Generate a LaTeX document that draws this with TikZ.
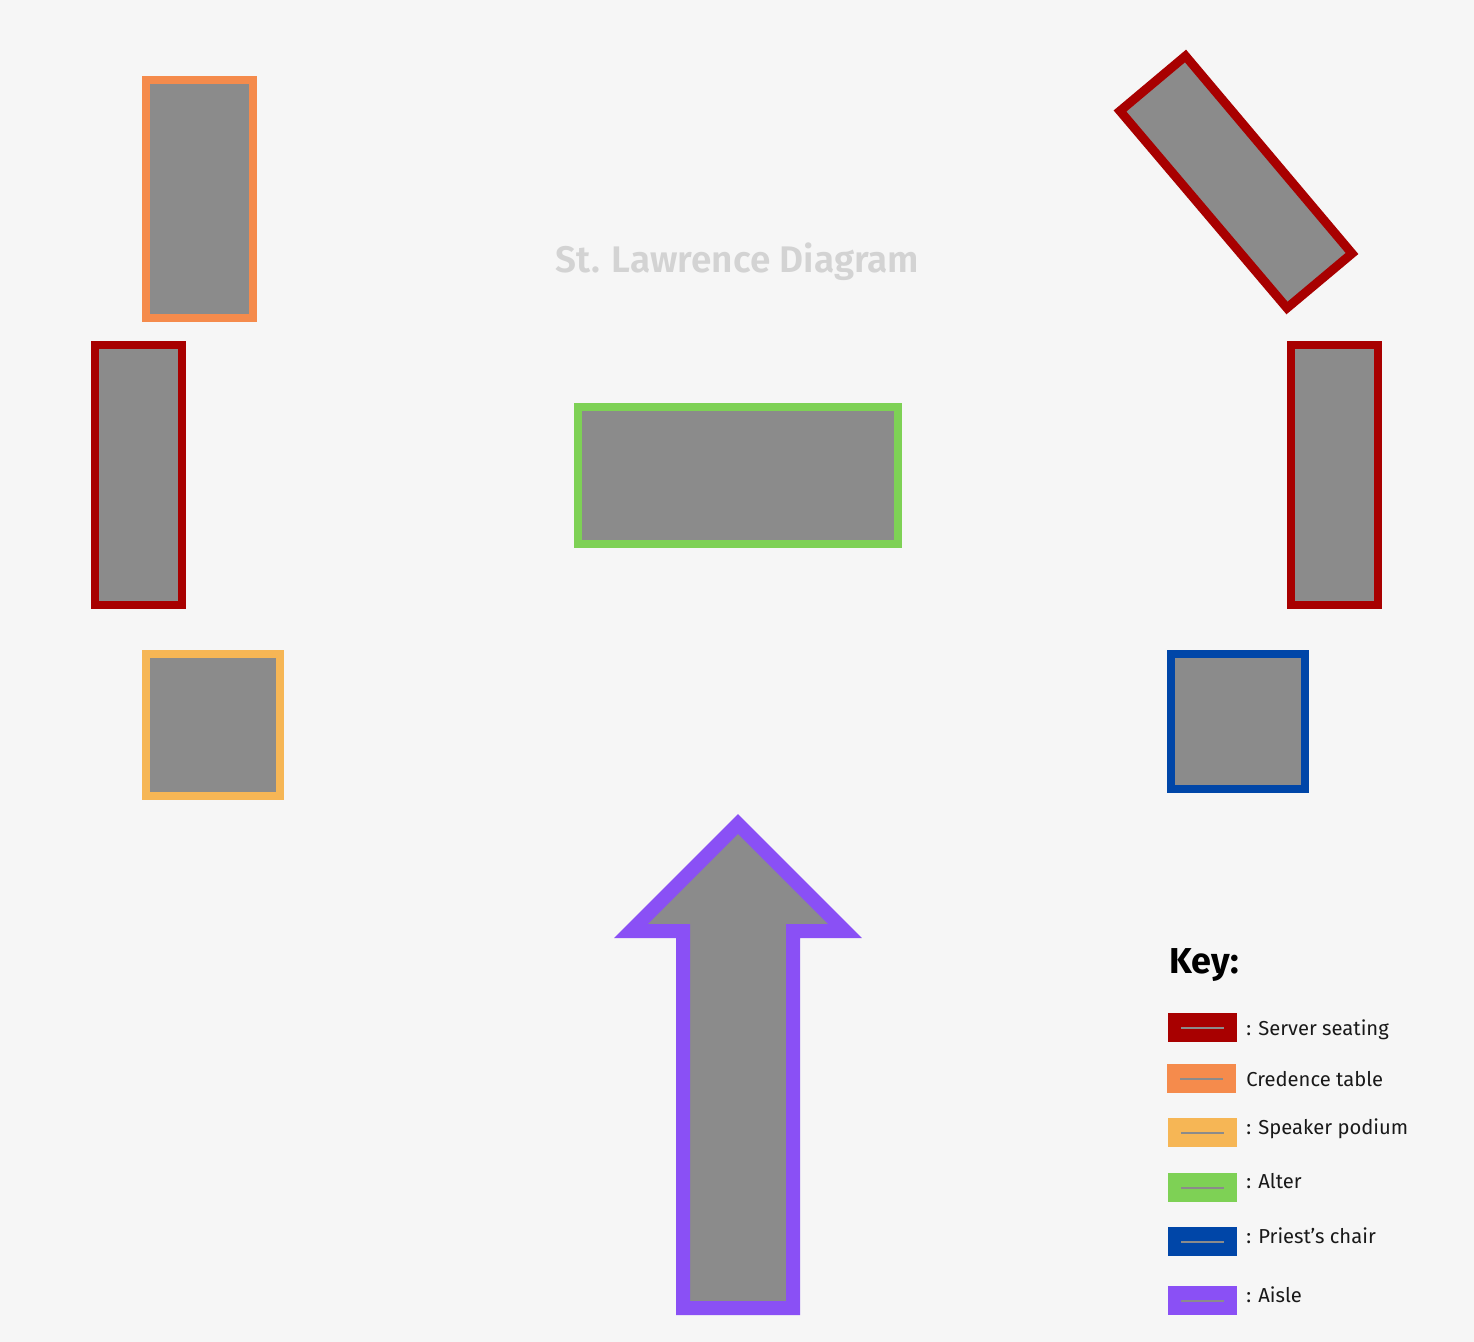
\documentclass[tikz,border=0pt]{standalone}
\usepackage{fontspec}
\setmainfont{Fira Sans}
\definecolor{pagebg}{HTML}{F6F6F6}
\definecolor{fillgray}{HTML}{8B8B8B}
\definecolor{serverred}{HTML}{A80000}
\definecolor{credorange}{HTML}{F58B4C}
\definecolor{podiumyellow}{HTML}{F6B655}
\definecolor{altergreen}{HTML}{7ED155}
\definecolor{chairblue}{HTML}{0046A8}
\definecolor{aislepurple}{HTML}{8A50F5}
\definecolor{titlegray}{HTML}{D3D3D3}
\tikzset{
    furniture/.style={fill=fillgray, line width=4pt, miter limit=10},
    swatch/.style={anchor=north west, inner sep=0pt, minimum width=34.5pt, minimum height=14.5pt},
    swatchline/.style={fillgray, line width=.6pt},
    keytext/.style={anchor=base west, inner sep=0pt, font=\fontsize{10.1}{12}\selectfont, text=black!90}
}

\begin{document}
\begin{tikzpicture}[x=.5pt,y=-.5pt]
                \fill[pagebg] (0,0) rectangle (1474,1342);
                \useasboundingbox (0,0) rectangle (1474,1342);

                \draw[furniture, draw=credorange]   (146,80)   rectangle (253,318);
                \draw[furniture, draw=serverred]    (95,345)   rectangle (182,605);
                \draw[furniture, draw=podiumyellow] (146,654)  rectangle (280,796);
                \draw[furniture, draw=altergreen]   (578,407)  rectangle (898,544);
                \draw[furniture, draw=serverred]    (1291,345) rectangle (1378,605);
                \draw[furniture, draw=chairblue]    (1171,654) rectangle (1305,789);
                \draw[furniture, draw=serverred, line width=4.5pt]
                (1185.5,56) -- (1352,253.5) -- (1287,308) -- (1120,111) -- cycle;

                \draw[furniture, draw=aislepurple, line width=7pt]
                (738,824) -- (845,931) -- (793,931) -- (793,1308) -- (683,1308)
                -- (683,931) -- (631,931) -- cycle;

                \node[anchor=base, inner sep=0pt, text=titlegray, font=\fontspec{Fira Sans SemiBold}\fontsize{18.5}{20}\selectfont]
                (title) at (737.5,273) {St. Lawrence Diagram};

                \node[anchor=base west, inner sep=0pt, font=\bfseries\fontsize{18}{20}\selectfont]
                (keyhead) at (1169,973) {Key:};

                \node[swatch, fill=serverred]    (keyserver) at (1168,1013) {};
                \node[swatch, fill=credorange]   (keycred)   at (1167,1064) {};
                \node[swatch, fill=podiumyellow] (keypodium) at (1168,1118) {};
                \node[swatch, fill=altergreen]   (keyalter)  at (1168,1173) {};
                \node[swatch, fill=chairblue]    (keychair)  at (1168,1227) {};
                \node[swatch, fill=aislepurple]  (keyaisle)  at (1168,1286) {};

                \draw[swatchline] ([xshift=6.5pt]keyserver.west) -- ([xshift=-7pt]keyserver.east);
                \draw[swatchline] ([xshift=6.5pt]keycred.west)   -- ([xshift=-7pt]keycred.east);
                \draw[swatchline] ([xshift=6.5pt]keypodium.west) -- ([xshift=-7pt]keypodium.east);
                \draw[swatchline] ([xshift=6.5pt]keyalter.west)  -- ([xshift=-7pt]keyalter.east);
                \draw[swatchline] ([xshift=6.5pt]keychair.west)  -- ([xshift=-7pt]keychair.east);
                \draw[swatchline] ([xshift=6.5pt]keyaisle.west)  -- ([xshift=-7pt]keyaisle.east);

                \node[keytext] (txtserver) at (1246,1035) {: Server seating};
                \node[keytext] (txtcred)   at (1246,1086) {Credence table};
                \node[keytext] (txtpodium) at (1246,1134) {: Speaker podium};
                \node[keytext] (txtalter)  at (1246,1188) {: Alter};
                \node[keytext] (txtchair)  at (1246,1243) {: Priest’s chair};
                \node[keytext] (txtaisle)  at (1246,1302) {: Aisle};
            \end{tikzpicture}
\end{document}
